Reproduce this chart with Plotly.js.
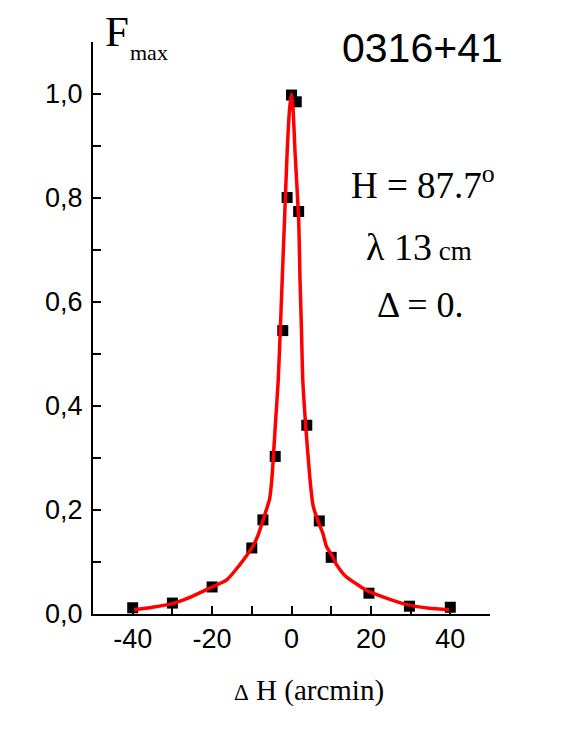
<!DOCTYPE html>
<html>
<head>
<meta charset="utf-8">
<script src="https://cdn.plot.ly/plotly-3.0.1.min.js"></script>
<style>html,body{margin:0;padding:0;background:#fff;}#plot{width:572px;height:740px;}</style>
</head>
<body>
<div id="plot"></div>
<script>
// Measured points (ΔH in arcmin, normalised Fmax)
var pointX = [-40, -30, -20, -10, -7.2, -4.1, -2.2, -1.1, 0, 1.2, 1.8, 3.85, 7.0, 10.0, 19.5, 29.7, 40];
var pointY = [0.012, 0.021, 0.052, 0.127, 0.181, 0.303, 0.545, 0.801, 0.998, 0.985, 0.774, 0.363, 0.179, 0.109, 0.040, 0.015, 0.013];

// Fitted curve
var fitX = [-40, -35, -30, -25.6, -20, -16.4, -13, -10, -8.5, -7.2, -5.5, -4.9, -4.1, -3.35, -2.8, -2.35, -1.75, -1.1, -0.5, 0,
            0.4, 0.9, 1.8, 2.15, 2.5, 2.85, 3.6, 4.6, 5.4, 6.6, 7.9, 8.8, 10.4, 11.2, 13.7, 17.5, 18.8, 23, 29.6, 34.7, 39.7];
var fitY = [0.008, 0.013, 0.020, 0.032, 0.052, 0.065, 0.095, 0.127, 0.150, 0.180, 0.222, 0.264, 0.360, 0.449, 0.550, 0.641, 0.759, 0.887, 0.970, 1.000,
            0.970, 0.887, 0.759, 0.641, 0.550, 0.449, 0.360, 0.264, 0.210, 0.180, 0.155, 0.130, 0.110, 0.097, 0.072, 0.052, 0.046, 0.033, 0.017, 0.011, 0.008];

var xTickVals = [-40, -20, 0, 20, 40];
var xTickText = ['-40', '-20', '0', '20', '40'];
var yTickVals = [0, 0.2, 0.4, 0.6, 0.8, 1.0];
var yTickText = ['0,0', '0,2', '0,4', '0,6', '0,8', '1,0'];

var W = 572, H = 740;
var M = {l: 93, r: 82, t: 42, b: 126};
function px(x) { return (x - M.l) / (W - M.l - M.r); }
function py(y) { return (H - M.b - y) / (H - M.t - M.b); }

var serif = 'Liberation Serif, Times New Roman, serif';
var sans = 'Liberation Sans, Arial, sans-serif';

var traces = [
  {x: pointX, y: pointY, type: 'scatter', mode: 'markers',
   marker: {symbol: 'square', size: 11, color: '#000'}, hoverinfo: 'skip'},
  {x: fitX, y: fitY, type: 'scatter', mode: 'lines',
   line: {color: '#ff0000', width: 3.5, shape: 'spline', smoothing: 0.6}, hoverinfo: 'skip'}
];

function ann(text, xp, yp, size, font) {
  return {text: text, xref: 'paper', yref: 'paper', x: px(xp), y: py(yp),
          xanchor: 'center', yanchor: 'middle', showarrow: false,
          font: {family: font, size: size, color: '#000'}};
}

var layout = {
  width: W, height: H,
  margin: M,
  paper_bgcolor: '#fff', plot_bgcolor: '#fff',
  showlegend: false,
  xaxis: {
    range: [-50, 50], showgrid: false, zeroline: false,
    showline: true, linecolor: '#000', linewidth: 2,
    tickmode: 'array', tickvals: xTickVals, ticktext: xTickText,
    ticks: 'inside', ticklen: 8, tickwidth: 2, tickcolor: '#000',
    minor: {tickmode: 'array', tickvals: [-30, -10, 10, 30], ticks: 'inside', ticklen: 8, tickwidth: 2, tickcolor: '#000'},
    tickfont: {family: sans, size: 27, color: '#000'}
  },
  yaxis: {
    range: [0, 1.1], showgrid: false, zeroline: false,
    showline: true, linecolor: '#000', linewidth: 2,
    tickmode: 'array', tickvals: yTickVals, ticktext: yTickText,
    ticks: 'inside', ticklen: 8, tickwidth: 2, tickcolor: '#000',
    minor: {tickmode: 'array', tickvals: [0.1, 0.3, 0.5, 0.7, 0.9, 1.1], ticks: 'inside', ticklen: 8, tickwidth: 2, tickcolor: '#000'},
    tickfont: {family: sans, size: 27, color: '#000'},
    ticklabelstandoff: 3
  },
  annotations: [
    ann('F', 117, 31, 43, serif),
    ann('max', 149, 52, 22, serif),
    ann('0316+41', 422, 48, 41, sans),
    ann('H = 87.7<sup>o</sup>', 423, 182, 37, serif),
    ann('λ 13<span style="font-size:27px"> cm</span>', 419, 247, 38, serif),
    ann('Δ = 0.', 420, 305, 36, serif),
    ann('<span style="font-size:23px">Δ</span> H (arcmin)', 309, 690, 29, serif)
  ]
};

Plotly.newPlot('plot', traces, layout, {staticPlot: true, displayModeBar: false});
</script>
</body>
</html>
